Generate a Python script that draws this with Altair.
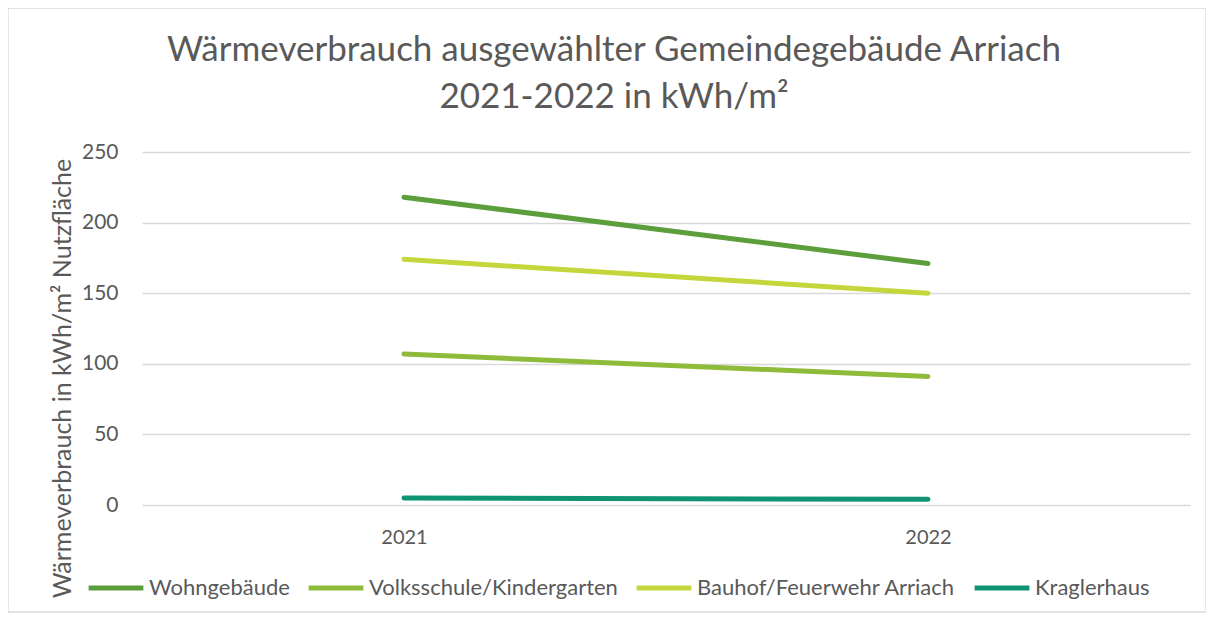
import altair as alt
import pandas as pd

years = ["2021", "2022"]
series = ["Wohngebäude", "Volksschule/Kindergarten", "Bauhof/Feuerwehr Arriach", "Kraglerhaus"]
wohngebaeude = [218, 171]
volksschule = [107, 91]
bauhof = [174, 150]
kraglerhaus = [5, 4]
colors = ["#5b9e3b", "#8fbb3a", "#c5d63c", "#0e9473"]
y_ticks = [0, 50, 100, 150, 200, 250]

rows = []
for name, vals in zip(series, [wohngebaeude, volksschule, bauhof, kraglerhaus]):
    for yr, v in zip(years, vals):
        rows.append({"Jahr": yr, "Serie": name, "Wert": v})
df = pd.DataFrame(rows)

FONT = "Lato"
GREY = "#595959"

lines = alt.Chart(df).mark_line(strokeWidth=5, strokeCap="round").encode(
    x=alt.X("Jahr:O", scale=alt.Scale(type="point", padding=0.5),
            axis=alt.Axis(title=None, labelAngle=0, domain=False, ticks=False,
                          labelPadding=22, labelFontSize=20, labelColor=GREY, labelFont=FONT)),
    y=alt.Y("Wert:Q", scale=alt.Scale(domain=[0, 250], nice=False),
            axis=alt.Axis(values=y_ticks, title="Wärmeverbrauch in kWh/m² Nutzfläche",
                          domain=False, ticks=False, labelPadding=24, labelFontSize=21,
                          labelColor=GREY, labelFont=FONT, titleFont=FONT, titleFontSize=25,
                          titleColor=GREY, titleFontWeight="normal", titleX=-80, titleY=226,
                          titleAngle=-90, titleAlign="center", titleBaseline="middle",
                          gridColor="#d9d9d9", gridWidth=1.3)),
    color=alt.Color("Serie:N", sort=series,
                    scale=alt.Scale(domain=series, range=colors),
                    legend=alt.Legend(title=None, orient="none", legendX=-56, legendY=406,
                                      direction="horizontal", symbolType="stroke",
                                      symbolSize=3000, symbolStrokeWidth=5,
                                      labelFontSize=22, labelColor=GREY, labelFont=FONT,
                                      labelOffset=3, columnPadding=8, labelLimit=400)),
)

frame = alt.Chart(pd.DataFrame({"f": [0]})).mark_rect(
    fill=None, stroke="#d9d9d9", strokeWidth=1.3
).encode(x=alt.value(-134), x2=alt.value(1064), y=alt.value(-144), y2=alt.value(460))

chart = alt.layer(frame, lines).properties(
    width=1048, height=353,
    title=alt.TitleParams(["Wärmeverbrauch ausgewählter Gemeindegebäude Arriach",
                           "2021-2022 in kWh/m²"],
                          fontSize=35, font=FONT, color=GREY, fontWeight="normal",
                          anchor="middle", dx=-52, offset=-108, lineHeight=47),
    autosize=alt.AutoSizeParams(type="none"),
    padding={"left": 134, "top": 144, "right": 16, "bottom": 115},
).configure_view(stroke=None)

chart.save("out.html", embed_options={"renderer": "svg", "actions": False})
